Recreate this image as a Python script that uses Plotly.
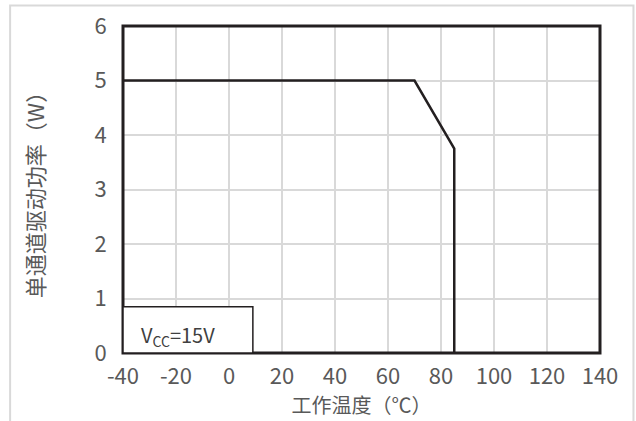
import plotly.graph_objects as go

temp_c = [-40, 70, 85, 85]
power_w = [5, 5, 3.75, 0]
x_ticks = [-40, -20, 0, 20, 40, 60, 80, 100, 120, 140]
y_ticks = [0, 1, 2, 3, 4, 5, 6]

FONT = "Noto Sans CJK SC"
W, H = 636, 421
L, T = 123, 25.5
pw = 600.5 - 123
ph = 353.5 - 25.5
R = W - L - pw
B = H - T - ph

def px(x):
    return (x - L) / pw

def py(y):
    return (T + ph - y) / ph

fig = go.Figure()
fig.add_trace(go.Scatter(x=temp_c, y=power_w, mode="lines",
                         line=dict(color="#231f20", width=2.5),
                         showlegend=False, hoverinfo="skip"))

tf = dict(size=22, color="#595959", family=FONT)

fig.update_layout(
    width=W, height=H,
    margin=dict(l=L, r=R, t=T, b=B, autoexpand=False),
    paper_bgcolor="white", plot_bgcolor="white",
    font=dict(family=FONT, color="#595959"),
    xaxis=dict(range=[-40, 140], tickvals=x_ticks, ticktext=[str(v) for v in x_ticks],
               showgrid=True, gridcolor="#d9d9d9", gridwidth=2,
               zeroline=False, showline=False,
               ticks="outside", ticklen=4, tickcolor="rgba(0,0,0,0)",
               tickfont=tf,
               title=dict(text="工作温度（℃）", font=dict(size=20, color="#595959", family=FONT), standoff=1),
               automargin=False),
    yaxis=dict(range=[0, 6], tickvals=y_ticks, ticktext=[str(v) for v in y_ticks],
               showgrid=True, gridcolor="#d9d9d9", gridwidth=2,
               zeroline=False, showline=False,
               ticks="outside", ticklen=11, tickcolor="rgba(0,0,0,0)",
               tickfont=tf,
               title=dict(text="单通道驱动功率（W）", font=dict(size=22, color="#595959", family=FONT), standoff=43),
               automargin=False),
    shapes=[
        # outer light border
        dict(type="rect", xref="paper", yref="paper",
             x0=px(10), x1=px(634), y0=py(440), y1=py(5),
             line=dict(color="#d9d9d9", width=2), layer="below"),
        # plot frame
        dict(type="rect", xref="paper", yref="paper", x0=0, x1=1, y0=0, y1=1,
             line=dict(color="#231f20", width=3)),
        # label box
        dict(type="rect", xref="paper", yref="paper",
             x0=0, x1=px(253), y0=0, y1=py(307),
             line=dict(color="#231f20", width=1.5), fillcolor="white"),
    ],
    annotations=[
        dict(text="V<sub>CC</sub>=15V", xref="paper", yref="paper",
             x=px(139), y=py(336), xanchor="left", yanchor="middle",
             showarrow=False, font=dict(size=20, color="#404040", family=FONT)),
    ],
)

fig.write_html(
    "out.html",
    config={"displayModeBar": False},
    post_script="document.body.style.margin='0';",
)
